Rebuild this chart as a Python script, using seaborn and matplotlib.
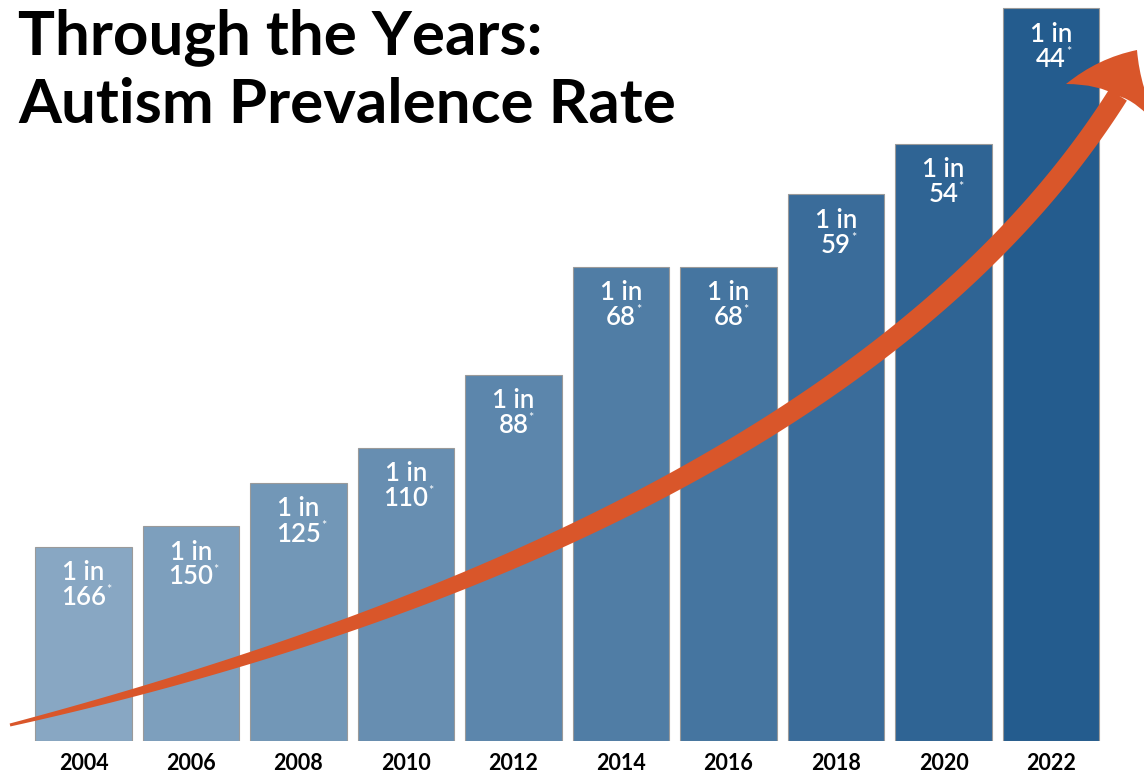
import numpy as np
import pandas as pd
import matplotlib
matplotlib.use("Agg")
import matplotlib.pyplot as plt
import seaborn as sns
from matplotlib.path import Path
from matplotlib.patches import PathPatch, Polygon

# prevalence: 1 in N children
years = ["2004", "2006", "2008", "2010", "2012", "2014", "2016", "2018", "2020", "2022"]
one_in = [166, 150, 125, 110, 88, 68, 68, 59, 54, 44]

df = pd.DataFrame({"year": years, "one_in": one_in})
df["per_1000"] = 1000 / df["one_in"]

sns.set_theme(style="white")
plt.rcParams["font.family"] = ["Lato", "DejaVu Sans"]

W, H = 1144, 774
fig = plt.figure(figsize=(W / 100, H / 100), dpi=100)
ax = fig.add_axes([29.75 / W, 33 / H, 1075 / W, 741 / H])

palette = sns.blend_palette(["#88a7c3", "#245c8e"], len(years))
sns.barplot(
    data=df, x="year", y="per_1000", hue="year", palette=palette,
    legend=False, width=0.9, edgecolor="#9a9a9a", linewidth=0.8,
    saturation=1, ax=ax,
)
ax.set_xlim(-0.5, len(years) - 0.5)
ax.set_ylim(0, 741 / 32.25)
sns.despine(ax=ax, left=True, bottom=True)
ax.set_yticks([])
ax.set_xlabel("")
ax.set_ylabel("")
ax.tick_params(axis="x", length=0, pad=9, labelsize=15.5, labelcolor="black")
for lbl in ax.get_xticklabels():
    lbl.set_fontweight("bold")

# labels inside bars
for i, (n, v) in enumerate(zip(df["one_in"], df["per_1000"])):
    ax.annotate("1 in", xy=(i, v), xytext=(0, -26), textcoords="offset pixels",
                ha="center", va="center", color="white", fontsize=18.5,
                fontweight="semibold")
    num = ax.annotate(str(n), xy=(i, v), xytext=(0, -51), textcoords="offset pixels",
                      ha="center", va="center", color="white", fontsize=18.5,
                      fontweight="semibold")
    ax.annotate("*", xy=(1, 1), xycoords=num, xytext=(0, 1), textcoords="offset pixels",
                ha="left", va="top", color="white", fontsize=9)

# title
fig.text(18 / W, 1 - 8 / H, "Through the Years:\nAutism Prevalence Rate",
         ha="left", va="top", fontsize=44.6, fontweight="bold", color="black",
         linespacing=1.24)

# decorative curved arrow (image pixel coords -> figure fraction)
def to_fig(pts):
    pts = np.asarray(pts, dtype=float)
    return np.column_stack([pts[:, 0] / W, 1 - pts[:, 1] / H])

arrow_color = "#d9562a"
P = np.array([[10, 725], [420, 625], [900, 440], [1118, 95]], dtype=float)
t = np.linspace(0, 1, 200)[:, None]
c = ((1 - t) ** 3) * P[0] + 3 * ((1 - t) ** 2) * t * P[1] + 3 * (1 - t) * t ** 2 * P[2] + t ** 3 * P[3]
d = -3 * (1 - t) ** 2 * P[0] + (3 * (1 - t) ** 2 - 6 * (1 - t) * t) * P[1] \
    + (6 * (1 - t) * t - 3 * t ** 2) * P[2] + 3 * t ** 2 * P[3]
d = d / np.linalg.norm(d, axis=1, keepdims=True)
nrm = np.column_stack([-d[:, 1], d[:, 0]])
w = 3 + 18 * (1 - (1 - t[:, 0]) ** 3)
upper = c + nrm * (w[:, None] / 2)
lower = c - nrm * (w[:, None] / 2)
shaft = np.vstack([upper, lower[::-1]])
fig.add_artist(Polygon(to_fig(shaft), closed=True, facecolor=arrow_color,
                       edgecolor="none", transform=fig.transFigure, zorder=5))

tip, lw, notch, rw = (1137, 50), (1066, 84), (1118, 96), (1160, 128)
head_pts = [tip, (1098, 58), lw, (1098, 84), notch, (1136, 100), rw, (1140, 88), tip]
codes = [Path.MOVETO, Path.CURVE3, Path.CURVE3, Path.CURVE3, Path.CURVE3,
         Path.CURVE3, Path.CURVE3, Path.CURVE3, Path.CURVE3]
head = Path(to_fig(head_pts), codes)
fig.add_artist(PathPatch(head, facecolor=arrow_color, edgecolor="none",
                         transform=fig.transFigure, zorder=5))

fig.savefig("out.png", dpi=100)
